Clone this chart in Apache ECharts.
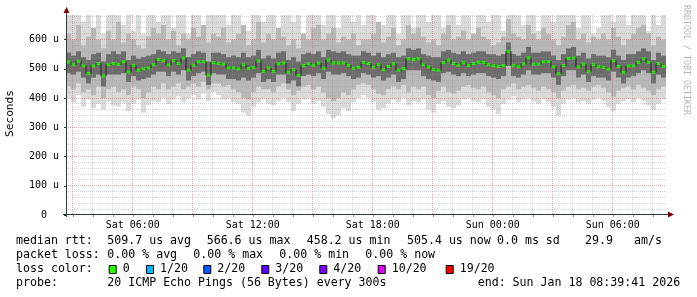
<!DOCTYPE html>
<html><head><meta charset="utf-8">
<script src="https://cdn.jsdelivr.net/npm/echarts@6/dist/echarts.min.js"></script>
<style>html,body{margin:0;padding:0;background:#fff}#c{width:697px;height:297px}</style>
</head><body><div id="c"></div>
<script>
// ---- time base (hours since Sat 00:00) ----
const startHour = 2 + 39/60 + 41/3600;   // Sat 02:39:41
const spanHours = 30;
const stepHours = 0.25;                  // 15 min per sample
const yMax = 684;

// ---- median RTT (microseconds) per step ----
const median = [523,514,526,510,484,510,518,475,514,518,
515,524,489,512,495,500,503,514,532,528,
513,528,518,537,495,512,524,524,478,521,
518,516,503,503,500,514,501,505,527,491,
503,491,517,520,488,497,477,511,517,512,
520,502,530,520,520,520,512,502,505,522,
518,505,514,497,508,517,495,501,534,532,
534,514,506,497,495,521,530,518,512,521,
511,518,522,522,514,511,508,511,560,512,
507,517,538,516,516,524,525,507,483,511,
536,537,506,516,490,514,507,505,499,528,
508,488,510,510,522,534,522,488,518,508];

// ---- smoke: outer (min/max), middle and core bands ----
const outerLow = [400,385,410,370,395,365,380,360,390,375,
370,385,355,380,395,350,375,390,385,400,
380,395,405,385,400,410,395,415,390,420,
410,395,400,385,380,350,340,370,385,395,
380,375,390,400,385,355,380,395,400,380,
390,370,345,330,340,365,355,385,400,410,
400,385,360,365,380,395,385,400,375,390,
385,395,360,350,380,390,370,365,375,395,
400,390,385,395,370,360,345,380,395,405,
385,395,400,390,380,395,385,370,340,380,
395,400,385,390,380,395,400,390,370,355,
380,390,395,385,400,390,375,360,380,395];
const outerHigh = [690,690,690,660,690,640,690,620,690,690,
690,650,690,630,690,620,690,690,660,690,
690,640,690,690,620,690,690,650,690,690,
690,690,650,690,690,640,630,690,690,660,
690,690,630,690,690,660,690,620,690,690,
690,650,690,690,640,690,690,660,690,650,
690,690,640,650,690,690,620,690,690,640,
690,690,660,690,690,640,690,690,650,690,
690,620,690,690,660,690,690,630,690,690,
690,650,690,690,630,690,690,660,690,690,
690,690,640,690,690,620,640,690,690,660,
690,690,650,690,690,690,630,690,650,690];
const midLow = [440,430,450,420,430,410,440,400,430,440,
420,430,410,440,430,400,420,440,430,450,
430,440,450,430,440,450,440,455,430,450,
450,440,445,430,420,400,395,420,440,430,
430,420,440,450,430,410,425,440,445,430,
440,420,400,390,400,420,410,430,445,450,
445,430,415,410,430,440,430,445,420,440,
430,440,410,400,425,440,420,415,425,440,
445,435,430,440,420,410,400,430,440,450,
430,440,445,435,425,440,430,420,400,425,
440,445,430,435,425,440,445,435,420,405,
425,435,440,430,445,435,425,410,430,440];
const midHigh = [620,600,650,580,610,640,600,570,630,600,
660,590,620,600,580,570,610,640,620,650,
600,630,580,620,600,640,610,650,590,620,
610,640,590,600,620,650,580,600,660,590,
620,600,640,610,580,600,570,620,600,640,
650,600,620,640,590,610,600,620,580,600,
600,620,660,590,610,640,580,600,650,620,
640,610,590,600,580,620,650,600,610,630,
600,620,640,610,600,580,590,610,670,620,
610,600,650,620,600,640,620,600,580,610,
650,660,600,620,590,610,600,620,600,640,
610,580,600,620,640,650,620,580,610,600];
const coreLow = [485,480,490,470,450,470,480,440,480,480,
480,485,455,475,460,465,470,480,490,490,
475,490,480,495,460,475,485,490,445,485,
480,480,465,465,460,470,460,470,485,455,
465,455,480,480,450,460,440,475,480,475,
485,465,490,480,480,485,475,465,470,485,
480,470,475,460,470,480,455,465,495,495,
495,475,465,460,455,485,490,480,475,485,
475,480,485,485,475,470,465,475,510,475,
470,480,495,480,480,485,485,470,445,475,
495,495,470,480,455,475,470,470,460,490,
470,450,470,475,485,495,485,450,480,470];
const coreHigh = [555,545,560,540,530,550,555,525,550,560,
550,560,530,545,535,540,545,550,565,560,
550,560,555,570,540,550,560,555,525,555,
555,550,540,545,540,555,540,545,565,535,
545,535,555,560,530,540,525,550,555,550,
560,540,565,560,555,560,550,545,545,560,
555,545,555,540,550,555,540,545,570,565,
570,550,545,540,540,560,565,555,550,560,
550,555,560,560,550,550,545,550,590,550,
545,555,575,555,555,560,560,545,530,550,
570,575,545,555,535,550,545,545,540,565,
545,530,550,550,560,570,560,530,555,545];

// ---- axis ticks / labels ----
const timeLabelHours = [6, 12, 18, 24, 30];
const yLabelValues = [0, 100, 200, 300, 400, 500, 600];
const gridHours = [];
for (let h = Math.ceil(startHour); h <= startHour + spanHours; h++) gridHours.push(h);
const gridValues = [];
for (let v = 20; v < yMax; v += 20) gridValues.push(v);

// ---- legend texts ----
const statRow1 = [['median rtt:',16],['509.7 us avg',107.3],['566.6 us max',206.7],['458.2 us min',306.7],['505.4 us now',407],['0.0 ms sd',497],['29.9',585],['am/s',634]];
const statRow2 = [['packet loss:',16],['0.00 % avg',107.3],['0.00 % max',193.3],['0.00 % min',279.3],['0.00 % now',365.3]];
const lossLabels = ['0','1/20','2/20','3/20','4/20','10/20','19/20'];
const lossColors = ['#26ff00','#00b8ff','#0059ff','#5e00ff','#7e00ff','#dd00ff','#ff0000'];
const lossBoxX = [108.7,146,203.3,261.3,319.3,377.7,445.7];
const probeRow = [['probe:',16],['20 ICMP Echo Pings (56 Bytes) every 300s',107.3],['end: Sun Jan 18 08:39:41 2026',477.7]];

const MONO = 'DejaVu Sans Mono';
const MINOR = 'rgba(150,150,150,0.4)';
const MAJOR = 'rgba(225,80,80,0.5)';

const smokeData = median.map((m, i) => [startHour + i*stepHours, outerLow[i], outerHigh[i], midLow[i], midHigh[i], coreLow[i], coreHigh[i]]);

function smokeItem(params, api) {
  const cs = params.coordSys;
  const t = api.value(0);
  const x0 = api.coord([t, 0])[0];
  const x1 = api.coord([t + stepHours, 0])[0];
  function band(lo, hi, color) {
    let yTop = Math.max(api.coord([t, hi])[1], cs.y);
    let yBot = Math.min(api.coord([t, lo])[1], cs.y + cs.height);
    return {type:'rect', shape:{x:x0, y:yTop, width:x1-x0, height:yBot-yTop}, style:{fill:color}};
  }
  return {type:'group', children:[
    band(api.value(1), api.value(2), '#dadada'),
    band(api.value(3), api.value(4), '#b8b8b8'),
    band(api.value(5), api.value(6), '#6c6c6c')
  ]};
}
function vGridItem(params, api) {
  const cs = params.coordSys;
  const h = api.value(0);
  const x = Math.floor(api.coord([h, 0])[0]) + 0.5;
  return {type:'line', shape:{x1:x, y1:cs.y, x2:x, y2:cs.y+cs.height},
    style:{stroke: h % 3 === 0 ? MAJOR : MINOR, lineWidth:1, lineDash:[1,1]}};
}
function hGridItem(params, api) {
  const cs = params.coordSys;
  const v = api.value(1);
  const y = Math.floor(api.coord([startHour, v])[1]) + 0.5;
  return {type:'line', shape:{x1:cs.x, y1:y, x2:cs.x+cs.width, y2:y},
    style:{stroke: v % 100 === 0 ? MAJOR : MINOR, lineWidth:1, lineDash:[1,1]}};
}

const graphics = [];
function txt(s, x, y, extra) {
  graphics.push(Object.assign({type:'text', x:x, y:y, silent:true,
    style:{text:s, fontFamily:MONO, fontSize:11.6, fill:'#000', align:'left', verticalAlign:'middle'}}, extra||{}));
}
statRow1.forEach(([s,x]) => txt(s, x, 241.3));
statRow2.forEach(([s,x]) => txt(s, x, 255.3));
txt('loss color:', 16, 269.3);
lossLabels.forEach((s, i) => {
  graphics.push({type:'rect', silent:true, shape:{x:lossBoxX[i]+0.5, y:265.5, width:7, height:8},
    style:{fill:lossColors[i], stroke:'#000', lineWidth:1}});
  txt(s, lossBoxX[i] + 14, 269.3);
});
probeRow.forEach(([s,x]) => txt(s, x, 283.3));
graphics.push({type:'text', x:10.5, y:113.5, rotation:Math.PI/2, silent:true,
  style:{text:'Seconds', fontFamily:MONO, fontSize:11.2, fill:'#000', align:'center', verticalAlign:'middle'}});
graphics.push({type:'text', x:686, y:5, rotation:-Math.PI/2, silent:true,
  style:{text:'RRDTOOL / TOBI OETIKER', fontFamily:MONO, fontSize:8.3, fill:'#b4b4b4', align:'left', verticalAlign:'middle'}});
// axis lines with arrows
graphics.push({type:'line', silent:true, z:100, shape:{x1:63, y1:214.5, x2:670, y2:214.5}, style:{stroke:'#2c3a36', lineWidth:1}});
graphics.push({type:'line', silent:true, z:100, shape:{x1:66.5, y1:217, x2:66.5, y2:11}, style:{stroke:'#2c3a36', lineWidth:1}});
graphics.push({type:'polygon', silent:true, z:100, shape:{points:[[668,211.5],[674,214.5],[668,217.5]]}, style:{fill:'#7f0000'}});
graphics.push({type:'polygon', silent:true, z:100, shape:{points:[[63.5,13],[66.5,7],[69.5,13]]}, style:{fill:'#7f0000'}});

const chart = echarts.init(document.getElementById('c'), null, {renderer:'canvas'});
chart.setOption({
  animation:false,
  backgroundColor:'#ffffff',
  grid:{left:66, right:31, top:15, bottom:82, containLabel:false},
  xAxis:{type:'value', min:startHour, max:startHour+spanHours,
    axisLine:{show:false}, splitLine:{show:false},
    axisTick:{show:true, customValues:gridHours, length:2, lineStyle:{color:'#999'}},
    axisLabel:{customValues:timeLabelHours, margin:5, fontFamily:MONO, fontSize:10, color:'#000',
      formatter:function(h){ const d = h < 24 ? 'Sat' : 'Sun'; const hh = h % 24; return d + ' ' + (hh<10?'0':'') + hh + ':00'; }}},
  yAxis:{type:'value', min:0, max:yMax,
    axisLine:{show:false}, splitLine:{show:false},
    axisTick:{show:true, customValues:yLabelValues, length:2, lineStyle:{color:'#2c3a36'}},
    axisLabel:{customValues:yLabelValues, margin:7, fontFamily:MONO, fontSize:10, color:'#000',
      formatter:function(v){ return v === 0 ? '0  ' : (v + ' u'); }}},
  series:[
    {type:'custom', coordinateSystem:'cartesian2d', silent:true, z:1, renderItem:smokeItem, data:smokeData, encode:{x:0, y:[1,2]}},
    {type:'custom', coordinateSystem:'cartesian2d', silent:true, z:2, renderItem:vGridItem, data:gridHours.map(h => [h, 0])},
    {type:'custom', coordinateSystem:'cartesian2d', silent:true, z:2, renderItem:hGridItem, data:gridValues.map(v => [startHour, v])},
    {type:'line', silent:true, z:3, step:'middle', showSymbol:false, symbol:'none',
      lineStyle:{color:'#1e1e1e', width:1}, data:median.map((v,i) => [startHour+(i+0.5)*stepHours, v])},
    {type:'scatter', silent:true, z:4, symbol:'rect', symbolSize:[4,3], itemStyle:{color:'#26ff00'},
      data:median.map((v,i) => [startHour+(i+0.5)*stepHours, v])}
  ],
  graphic:graphics
});
</script></body></html>
